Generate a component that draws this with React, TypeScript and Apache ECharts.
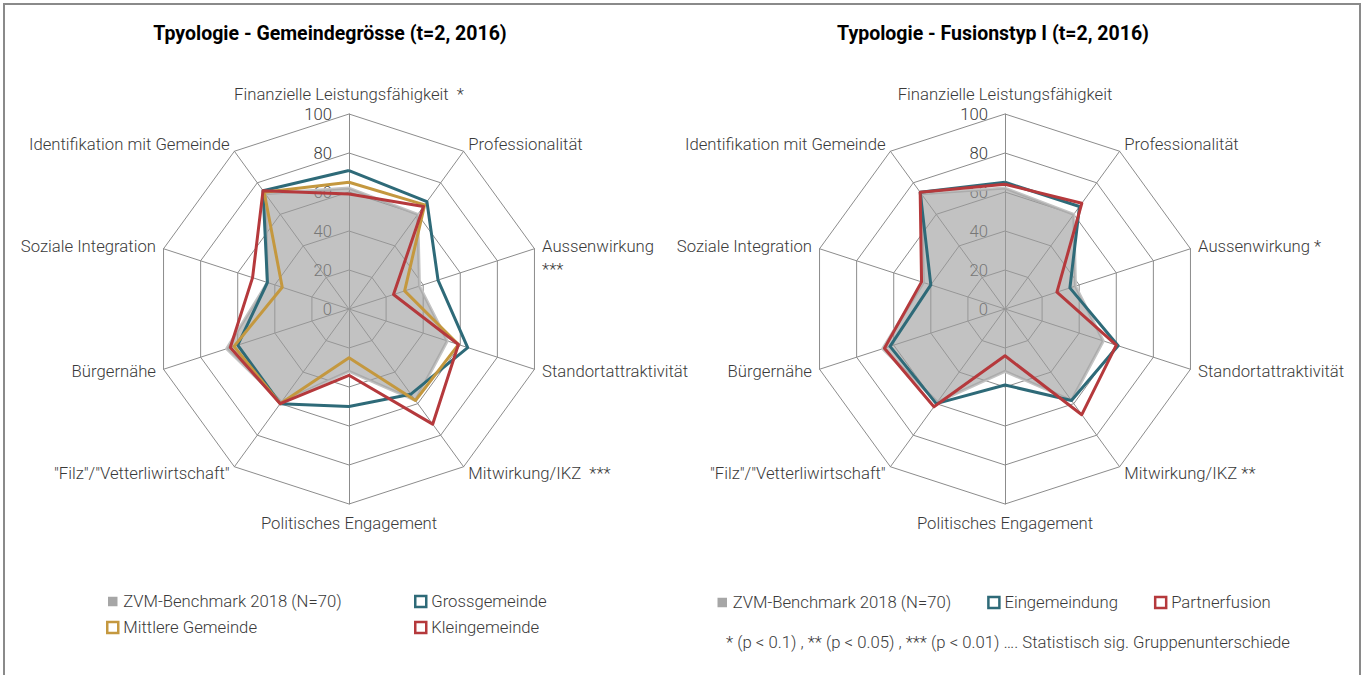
import React, { useEffect, useRef } from "react";
import * as echarts from "echarts";

// Indicators (clockwise from top as in the reference)
const leftIndicatorNames = [
  "Finanzielle Leistungsfähigkeit  *",
  "Professionalität",
  "\nAussenwirkung\n***",
  "Standortattraktivität",
  "Mitwirkung/IKZ  ***",
  "Politisches Engagement",
  "\"Filz\"/\"Vetterliwirtschaft\"",
  "Bürgernähe",
  "Soziale Integration",
  "Identifikation mit Gemeinde",
];
const rightIndicatorNames = [
  "Finanzielle Leistungsfähigkeit",
  "Professionalität",
  "Aussenwirkung *",
  "Standortattraktivität",
  "Mitwirkung/IKZ **",
  "Politisches Engagement",
  "\"Filz\"/\"Vetterliwirtschaft\"",
  "Bürgernähe",
  "Soziale Integration",
  "Identifikation mit Gemeinde",
];

const tickValues = [0, 20, 40, 60, 80, 100];

// values in clockwise order (same order as names)
const benchmark = [62, 60, 38, 53, 58, 32, 59, 66, 44, 73];
const grossgemeinde = [71, 68, 48, 64, 54, 50, 60, 60, 44, 75];
const mittlereGemeinde = [65, 66, 30, 59, 58, 25, 60, 62, 36, 74];
const kleingemeinde = [59, 65, 24, 59, 73, 34, 60, 64, 52, 75];
const eingemeindung = [65, 65, 35, 61, 58, 39, 60, 62, 40, 74];
const partnerfusion = [64, 67, 28, 60, 67, 24, 62, 65, 45, 74];

const BENCH = "ZVM-Benchmark 2018 (N=70)";
const TEAL = "#2e6a78";
const GOLD = "#c4983f";
const RED = "#b5393c";

// ECharts places indicators counter-clockwise: keep first, reverse the rest
const ccw = <T,>(arr: T[]): T[] => [arr[0], ...arr.slice(1).reverse()];

const FONT = "Roboto, 'Noto Sans', sans-serif";
const FS = 16.7;
const TXT = "#3a3a3a";
const FW = 300;

function buildIndicators(names: string[]) {
  return ccw(names).map((name, i) => {
    const ind: any = { name, min: 0, max: 100 };
    if (i === 0) {
      ind.nameGap = 7;
      ind.axisLabel = {
        show: true,
        color: TXT,
        fontSize: FS,
        fontWeight: FW,
        fontFamily: FONT,
        margin: 17,
        showMinLabel: true,
        showMaxLabel: true,
      };
    }
    return ind;
  });
}

function radarCfg(cx: number, names: string[]) {
  return {
    center: [cx, 309],
    radius: 195,
    startAngle: 90,
    shape: "polygon",
    splitNumber: tickValues.length - 1,
    indicator: buildIndicators(names),
    axisName: {
      color: TXT,
      fontSize: FS,
      fontWeight: FW,
      fontFamily: FONT,
      lineHeight: 23,
    },
    nameGap: 8,
    splitArea: { show: false },
    splitLine: { lineStyle: { color: "#8c8c8c", width: 1 } },
    axisLine: { lineStyle: { color: "#8c8c8c", width: 1 } },
    axisLabel: { show: false },
  };
}

function lineSeries(name: string, data: number[], color: string, radarIndex: number, z: number) {
  return {
    type: "radar",
    radarIndex,
    name,
    symbol: "none",
    z,
    lineStyle: { color, width: 3 },
    itemStyle: { color },
    data: [{ name, value: ccw(data) }],
  };
}

function benchSeries(radarIndex: number) {
  return {
    type: "radar",
    radarIndex,
    name: BENCH,
    symbol: "none",
    z: 1,
    lineStyle: { color: "#c4c4c4", width: 3 },
    areaStyle: { color: "#9c9c9c", opacity: 0.62 },
    itemStyle: { color: "#a9a9a9" },
    data: [{ name: BENCH, value: ccw(benchmark) }],
  };
}

const legendText = { fontSize: FS, color: TXT, fontWeight: FW, fontFamily: FONT };

function legendItem(name: string, color: string) {
  return {
    name,
    icon: "rect",
    itemStyle: { color: "#ffffff", borderColor: color, borderWidth: 2.5 },
  };
}
const benchLegend = {
  name: BENCH,
  icon: "rect",
  itemStyle: { color: "#a6a6a6", borderColor: "#ffffff", borderWidth: 1.5 },
};

export default function App() {
  const ref = useRef<HTMLDivElement>(null);
  useEffect(() => {
    if (!ref.current) return;
    const chart = echarts.init(ref.current, null, { renderer: "svg" });
    chart.setOption({
      animation: false,
      backgroundColor: "#ffffff",
      textStyle: { fontFamily: FONT },
      radar: [radarCfg(349, leftIndicatorNames), radarCfg(1005, rightIndicatorNames)],
      legend: [
        {
          orient: "vertical",
          left: 101,
          top: 588,
          itemWidth: 11,
          itemHeight: 11,
          itemGap: 9,
          selectedMode: false,
          textStyle: legendText,
          data: [benchLegend, legendItem("Mittlere Gemeinde", GOLD)],
        },
        {
          orient: "vertical",
          left: 409,
          top: 588,
          itemWidth: 11,
          itemHeight: 11,
          itemGap: 9,
          selectedMode: false,
          textStyle: legendText,
          data: [legendItem("Grossgemeinde", TEAL), legendItem("Kleingemeinde", RED)],
        },
        {
          orient: "horizontal",
          left: 711,
          top: 589,
          itemWidth: 11,
          itemHeight: 11,
          itemGap: 36,
          selectedMode: false,
          textStyle: legendText,
          data: [
            benchLegend,
            legendItem("Eingemeindung", TEAL),
            legendItem("Partnerfusion", RED),
          ],
        },
      ],
      graphic: [
        {
          type: "rect",
          silent: true,
          shape: { x: 4, y: 4, width: 1356, height: 700 },
          style: { fill: "none", stroke: "#8a8a8a", lineWidth: 2 },
        },
        {
          type: "text",
          x: 330,
          y: 33,
          style: {
            text: "Tpyologie - Gemeindegrösse (t=2, 2016)",
            fontSize: 19.5,
            fontWeight: "bold",
            fontFamily: FONT,
            fill: "#000000",
            textAlign: "center",
            textVerticalAlign: "middle",
          },
        },
        {
          type: "text",
          x: 993,
          y: 33,
          style: {
            text: "Typologie - Fusionstyp I (t=2, 2016)",
            fontSize: 19.5,
            fontWeight: "bold",
            fontFamily: FONT,
            fill: "#000000",
            textAlign: "center",
            textVerticalAlign: "middle",
          },
        },
        {
          type: "text",
          x: 1008,
          y: 642,
          style: {
            text: "* (p < 0.1) , ** (p < 0.05) , *** (p < 0.01) …. Statistisch sig. Gruppenunterschiede",
            fontSize: 16.7,
            fontWeight: FW,
            fontFamily: FONT,
            fill: TXT,
            textAlign: "center",
            textVerticalAlign: "middle",
          },
        },
      ],
      series: [
        benchSeries(0),
        lineSeries("Grossgemeinde", grossgemeinde, TEAL, 0, 2),
        lineSeries("Mittlere Gemeinde", mittlereGemeinde, GOLD, 0, 3),
        lineSeries("Kleingemeinde", kleingemeinde, RED, 0, 4),
        benchSeries(1),
        lineSeries("Eingemeindung", eingemeindung, TEAL, 1, 2),
        lineSeries("Partnerfusion", partnerfusion, RED, 1, 3),
      ],
    });
    return () => chart.dispose();
  }, []);
  return (
    <div
      ref={ref}
      style={{ position: "fixed", left: 0, top: 0, width: 1365, height: 675 }}
    />
  );
}
